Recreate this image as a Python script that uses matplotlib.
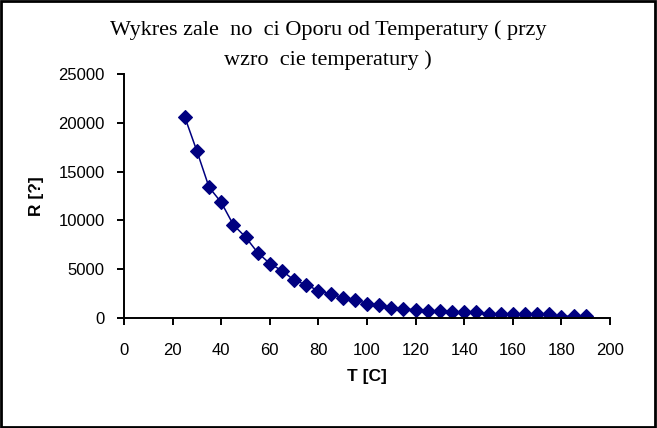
import matplotlib
matplotlib.use('Agg')
import matplotlib.pyplot as plt
from matplotlib.patches import Rectangle

# Dane: temperatura [C] i opór [?]
temperatura = [25, 30, 35, 40, 45, 50, 55, 60, 65, 70,
               75, 80, 85, 90, 95, 100, 105, 110, 115, 120,
               125, 130, 135, 140, 145, 150, 155, 160, 165, 170,
               175, 180, 185, 190]
opor = [20600, 17100, 13400, 11850, 9550, 8300, 6700, 5580, 4850, 3880,
        3400, 2800, 2440, 2100, 1890, 1480, 1300, 1070, 900, 860,
        720, 760, 620, 590, 590, 380, 380, 380, 420, 380,
        380, 140, 210, 210]

x_ticks = [0, 20, 40, 60, 80, 100, 120, 140, 160, 180, 200]
y_ticks = [0, 5000, 10000, 15000, 20000, 25000]

tytul_1 = 'Wykres zale  no  ci Oporu od Temperatury ( przy'
tytul_2 = 'wzro  cie temperatury )'

fig = plt.figure(figsize=(6.57, 4.28), dpi=100)
ax = fig.add_axes([124/657, 110/428, 486/657, 244/428])

kolor = '#000080'
ax.plot(temperatura, opor, color=kolor, lw=1.1, marker='D', ms=7,
        mfc=kolor, mec=kolor, mew=0.8)

ax.set_xlim(0, 200)
ax.set_ylim(0, 25000)
ax.set_xticks(x_ticks)
ax.set_yticks(y_ticks)

for s in ['top', 'right']:
    ax.spines[s].set_visible(False)
for s in ['left', 'bottom']:
    ax.spines[s].set_linewidth(1.4)

ax.tick_params(axis='x', direction='out', length=5, width=1.4, pad=13,
               labelsize=12)
ax.tick_params(axis='y', direction='out', length=5, width=1.4, pad=9,
               labelsize=12)
for lab in ax.get_xticklabels() + ax.get_yticklabels():
    lab.set_fontfamily('Liberation Sans')

# Opisy osi
ax.set_xlabel('T [C]', fontsize=12.5, fontweight='bold', family='Liberation Sans')
ax.xaxis.set_label_coords(0.5, -0.209)
ax.set_ylabel('R [?]', fontsize=12.5, fontweight='bold', family='Liberation Sans',
              va='center')
ax.yaxis.set_label_coords((37 - 124) / 486, 0.5)

# Tytuł
fig.text(0.499, 1 - 30/428, tytul_1, ha='center', va='center',
         fontsize=16, family='Liberation Serif')
fig.text(0.499, 1 - 60/428, tytul_2, ha='center', va='center',
         fontsize=16, family='Liberation Serif')

# Ramka wokół wykresu
fig.patches.append(Rectangle((0.002, 0.003), 0.995, 0.994, transform=fig.transFigure,
                             fill=False, edgecolor='black', lw=2))

fig.savefig('out.png', dpi=100)
